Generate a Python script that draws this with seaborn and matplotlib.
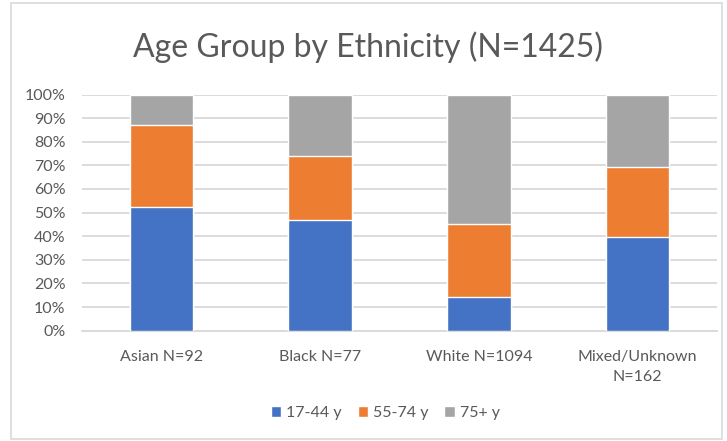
import numpy as np
import pandas as pd
import seaborn as sns
import matplotlib.pyplot as plt
from matplotlib.patches import Rectangle

# counts per age group (share of each ethnicity)
groups = ["Asian N=92", "Black N=77", "White N=1094", "Mixed/Unknown\nN=162"]
age_17_44 = [48, 36, 157, 64]
age_55_74 = [32, 21, 338, 48]
age_75_plus = [12, 20, 599, 50]
series_names = ["17-44 y", "55-74 y", "75+ y"]
colors = ["#4472C4", "#ED7D31", "#A5A5A5"]

sns.set_style("white")
plt.rcParams['font.family'] = ['Lato', 'DejaVu Sans']
txt = "#595959"

df = pd.DataFrame({"group": groups, "a": age_17_44, "b": age_55_74, "c": age_75_plus})
tot = df[["a", "b", "c"]].sum(axis=1)
df["p1"] = df["a"] / tot * 100
df["p2"] = (df["a"] + df["b"]) / tot * 100
df["p3"] = (df["a"] + df["b"] + df["c"]) / tot * 100

fig = plt.figure(figsize=(7.27, 4.41), dpi=100)
ax = fig.add_axes([82/727, 110.3/441, 635/727, 236.2/441])

# stacked look: draw the cumulative totals back to front
sns.barplot(data=df, x="group", y="p3", color=colors[2], width=0.4, ax=ax,
            label=series_names[2], saturation=1, zorder=3)
sns.barplot(data=df, x="group", y="p2", color=colors[1], width=0.4, ax=ax,
            label=series_names[1], saturation=1, zorder=3)
sns.barplot(data=df, x="group", y="p1", color=colors[0], width=0.4, ax=ax,
            label=series_names[0], saturation=1, zorder=3)
if ax.get_legend():
    ax.get_legend().remove()

ax.set_xlim(-0.5, 3.5)
ax.set_ylim(0, 100)
ax.set_yticks(np.arange(0, 101, 10))
ax.set_yticklabels([f"{v}%" for v in range(0, 101, 10)])
ax.yaxis.grid(True, color="#D9D9D9", linewidth=1.3, zorder=0)
ax.set_axisbelow(True)
for s in ["top", "right", "left"]:
    ax.spines[s].set_visible(False)
ax.spines["bottom"].set_color("#D9D9D9")
ax.spines["bottom"].set_linewidth(1.3)
ax.tick_params(axis="both", length=0, labelsize=11.5, colors=txt)
ax.tick_params(axis="y", pad=12)
ax.tick_params(axis="x", pad=14)
for t in ax.get_xticklabels():
    t.set_linespacing(1.5)
    t.set_va("top")
ax.set_xlabel("")
ax.set_ylabel("")

fig.text(0.506, 0.892, "Age Group by Ethnicity (N=1425)", ha="center", va="center",
         fontsize=23, color=txt)

h, l = ax.get_legend_handles_labels()
order = [l.index(n) for n in series_names]
fig.legend([h[i] for i in order], series_names, loc="center", bbox_to_anchor=(0.53, 0.063),
           ncol=3, frameon=False, fontsize=11.5, labelcolor=txt, handlelength=0.65,
           handleheight=0.65, handletextpad=0.3, columnspacing=1.0)

fig.patches.append(Rectangle((11/727, 2/441), 711/727, 436/441, transform=fig.transFigure,
                             fill=False, edgecolor="#D9D9D9", linewidth=1.2))

fig.savefig("out.png", dpi=100)
